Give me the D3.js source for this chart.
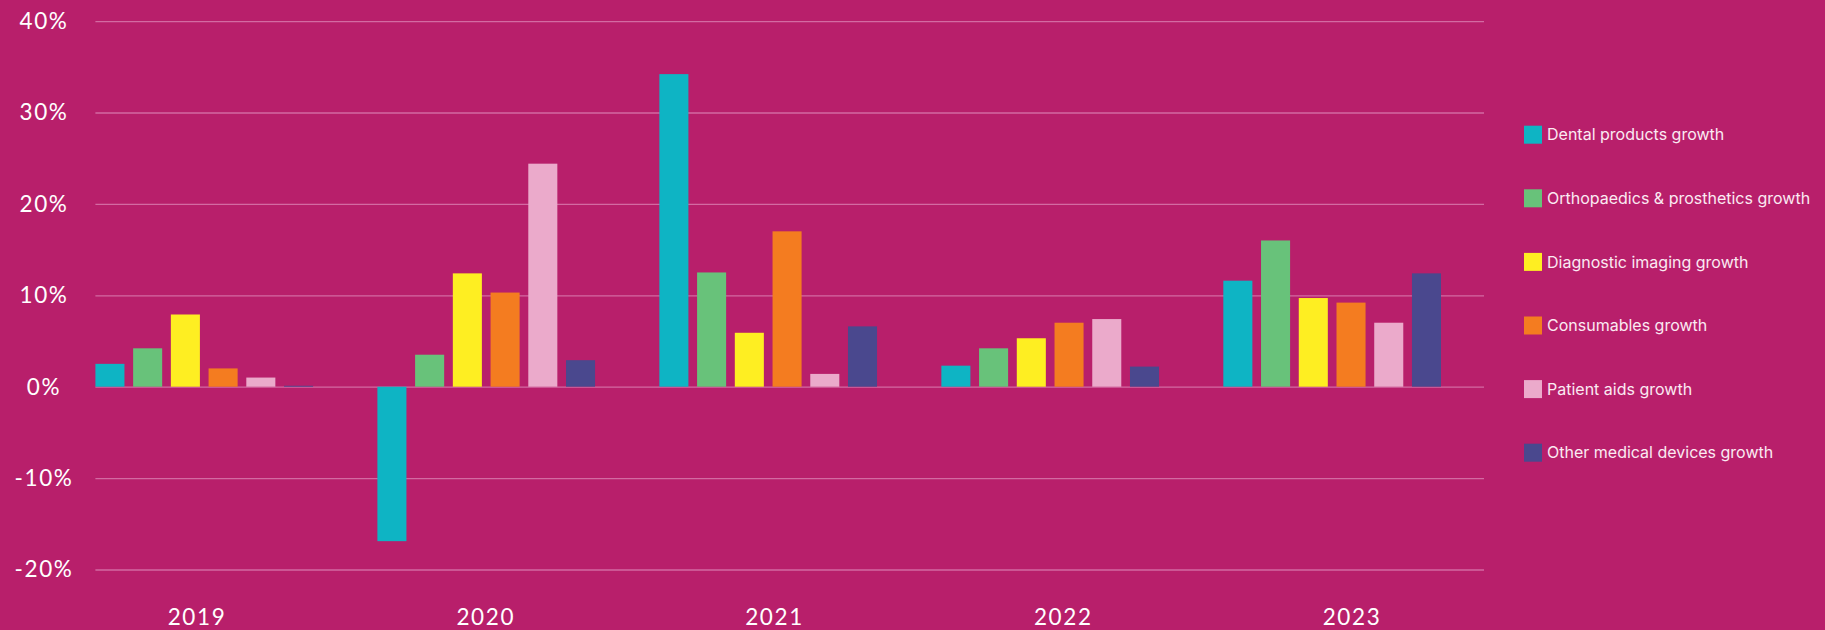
<!DOCTYPE html>
<html>
<head>
<meta charset="utf-8">
<script src="https://cdn.jsdelivr.net/npm/d3@7"></script>
<style>
  html, body { margin: 0; padding: 0; background: #b81f6b; }
  svg { display: block; }
  .grid line { stroke: #d36aa2; stroke-width: 1.3; }
  .grid .domain { display: none; }
  .ylab, .xlab { fill: #fff; font-family: Lato, sans-serif; font-weight: 400; font-size: 22.5px; letter-spacing: 1.6px; }
  .legend text { fill: #fbeaf2; font-family: Inter, sans-serif; font-size: 16px; }
</style>
</head>
<body>
<svg id="chart"></svg>
<script>
var years = ["2019", "2020", "2021", "2022", "2023"];
var seriesNames = [
  "Dental products growth",
  "Orthopaedics & prosthetics growth",
  "Diagnostic imaging growth",
  "Consumables growth",
  "Patient aids growth",
  "Other medical devices growth"
];
var seriesColors = ["#0eb4c4", "#68c27a", "#feee22", "#f47c20", "#ebaacb", "#4a488e"];

// growth in %, one array per series, in year order
var dental      = [2.5, -16.9, 34.2, 2.3, 11.6];
var orthopaedic = [4.2, 3.5, 12.5, 4.2, 16.0];
var imaging     = [7.9, 12.4, 5.9, 5.3, 9.7];
var consumables = [2.0, 10.3, 17.0, 7.0, 9.2];
var patientAids = [1.0, 24.4, 1.4, 7.4, 7.0];
var otherDevices = [0.1, 2.9, 6.6, 2.2, 12.4];
var yTicks = [40, 30, 20, 10, 0, -10, -20];

var allSeries = [dental, orthopaedic, imaging, consumables, patientAids, otherDevices];

var data = years.map(function(y, i) {
  return { year: y, values: allSeries.map(function(s, j) { return { key: seriesNames[j], value: s[i] }; }) };
});

var W = 1825, H = 630;
var svg = d3.select('#chart').attr('width', W).attr('height', H);

var plotLeft = 95.4, plotRight = 1484;

var y = d3.scaleLinear().domain([-20, 40]).range([569.5, 21.1]);

var x0 = d3.scaleBand()
  .domain(years)
  .range([plotLeft, 1441])
  .paddingInner(0.228)
  .paddingOuter(0);

var x1 = d3.scaleBand()
  .domain(seriesNames)
  .range([0, x0.bandwidth()])
  .paddingInner(0.23)
  .paddingOuter(0);

var color = d3.scaleOrdinal().domain(seriesNames).range(seriesColors);

// label positions for the years
var xLab = d3.scalePoint().domain(years).range([197, 1352]);

// gridlines
svg.append('g')
  .attr('class', 'grid')
  .attr('transform', 'translate(' + plotLeft + ',0)')
  .call(d3.axisLeft(y).tickValues(yTicks).tickSize(-(plotRight - plotLeft)).tickFormat(''));

svg.selectAll('.ylab')
  .data(yTicks)
  .enter()
  .append('text')
  .attr('class', 'ylab')
  .attr('x', 44)
  .attr('y', function(d) { return y(d); })
  .attr('dy', '0.35em')
  .attr('text-anchor', 'middle')
  .text(function(d) { return d + '%'; });

// bars
var groups = svg.selectAll('.year')
  .data(data)
  .enter()
  .append('g')
  .attr('class', 'year')
  .attr('transform', function(d) { return 'translate(' + x0(d.year) + ',0)'; });

groups.selectAll('rect')
  .data(function(d) { return d.values; })
  .enter()
  .append('rect')
  .attr('x', function(d) { return x1(d.key); })
  .attr('y', function(d) { return y(Math.max(0, d.value)); })
  .attr('width', x1.bandwidth())
  .attr('height', function(d) { return Math.abs(y(d.value) - y(0)); })
  .attr('fill', function(d) { return color(d.key); });

svg.selectAll('.xlab')
  .data(years)
  .enter()
  .append('text')
  .attr('class', 'xlab')
  .attr('x', function(d) { return xLab(d); })
  .attr('y', 625)
  .attr('text-anchor', 'middle')
  .text(function(d) { return d; });

// legend
var legend = svg.append('g').attr('class', 'legend');
var item = legend.selectAll('g')
  .data(seriesNames)
  .enter()
  .append('g')
  .attr('transform', function(d, i) { return 'translate(1524,' + (134.7 + i * 63.6) + ')'; });

item.append('rect')
  .attr('x', 0)
  .attr('y', -9)
  .attr('width', 18)
  .attr('height', 18)
  .attr('fill', function(d) { return color(d); });

item.append('text')
  .attr('x', 23)
  .attr('dy', '0.35em')
  .text(function(d) { return d; });
</script>
</body>
</html>
